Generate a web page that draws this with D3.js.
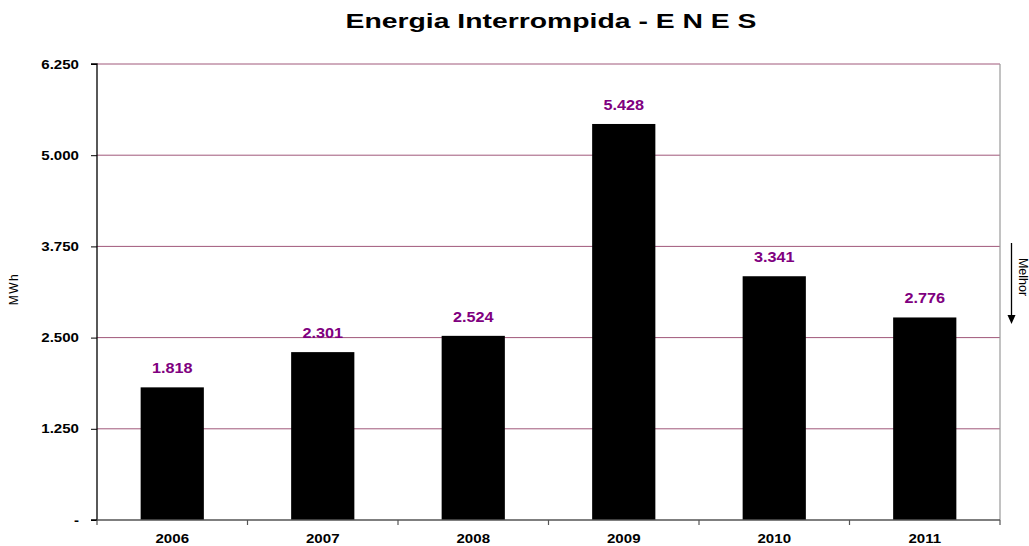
<!DOCTYPE html>
<html><head><meta charset="utf-8">
<script src="https://cdn.jsdelivr.net/npm/d3@7"></script>
<style>body{margin:0;background:#fff}svg{display:block}text{font-family:"Liberation Sans",Arial,sans-serif}</style>
</head><body><svg id="c" width="1029" height="546"></svg>
<script>
const categories = ["2006","2007","2008","2009","2010","2011"];
const values = [1818, 2301, 2524, 5428, 3341, 2776];
const valueLabels = ["1.818","2.301","2.524","5.428","3.341","2.776"];
const yTicks = [0, 1250, 2500, 3750, 5000, 6250];
const yTickLabels = ["-", "1.250", "2.500", "3.750", "5.000", "6.250"];
const title = "Energia Interrompida - E N E S";

const SX = 1.16; // horizontal stretch of the original text
const svg = d3.select("#c");
const L = 97, R = 1000, T = 64, B = 520;
const x = d3.scaleBand().domain(categories).range([L, R]).paddingInner(0.58).paddingOuter(0.29);
const xb = d3.scaleBand().domain(categories).range([L, R]);
const y = d3.scaleLinear().domain([0, 6250]).range([B, T]);

function stretch(sel, sx) {
  sel.each(function() {
    const t = d3.select(this);
    const tx = +t.attr("x") || 0;
    t.attr("x", 0).attr("transform", (t.attr("transform") || "") + ` translate(${tx},0) scale(${sx},1)`);
  });
}

// gridlines
svg.append("g").selectAll("line").data(yTicks.filter(d => d > 0)).join("line")
  .attr("x1", L).attr("x2", R).attr("y1", d => y(d)).attr("y2", d => y(d))
  .attr("stroke", "#a0587a").attr("stroke-width", 1);
// right border
svg.append("line").attr("x1", R).attr("x2", R).attr("y1", T).attr("y2", B).attr("stroke", "#999").attr("stroke-width", 1.2);

// bars
svg.append("g").selectAll("rect").data(values).join("rect")
  .attr("x", (d, i) => x(categories[i])).attr("width", x.bandwidth())
  .attr("y", d => y(d)).attr("height", d => B - y(d)).attr("fill", "#000");

// value labels
svg.append("g").selectAll("text").data(values).join("text")
  .attr("x", (d, i) => x(categories[i]) + x.bandwidth() / 2).attr("y", d => y(d) - 14)
  .attr("text-anchor", "middle").attr("font-size", 14).attr("font-weight", "bold").attr("fill", "#800080")
  .text((d, i) => valueLabels[i])
  .call(stretch, SX);

// y axis
const yAxis = d3.axisLeft(y).tickValues(yTicks).tickFormat((d, i) => yTickLabels[i]).tickSize(6).tickPadding(12);
const gy = svg.append("g").attr("transform", `translate(${L},0)`).call(yAxis);
gy.select(".domain").attr("stroke", "#000").attr("stroke-width", 1.3).attr("d", `M-6,${T}H0V${B}H-6`);
gy.selectAll(".tick line").attr("stroke", "#000");
gy.selectAll(".tick text").attr("font-size", 13).attr("font-weight", "bold").attr("fill", "#000")
  .attr("font-family", "Liberation Sans, Arial, sans-serif").call(stretch, SX);

// x axis
const xAxis = d3.axisBottom(xb).tickSize(0).tickPadding(14);
const gx = svg.append("g").attr("transform", `translate(0,${B})`).call(xAxis);
gx.select(".domain").attr("stroke", "#555").attr("stroke-width", 1.3).attr("d", `M${L},0H${R}`);
gx.selectAll(".tick text").attr("font-size", 13).attr("font-weight", "bold").attr("fill", "#000")
  .attr("font-family", "Liberation Sans, Arial, sans-serif").call(stretch, SX);
svg.append("g").selectAll("line").data(d3.range(categories.length + 1)).join("line")
  .attr("x1", i => L + i * xb.step()).attr("x2", i => L + i * xb.step())
  .attr("y1", B).attr("y2", B + 5).attr("stroke", "#555").attr("stroke-width", 1.2);

// title
svg.append("text").attr("x", 551).attr("y", 28).attr("text-anchor", "middle")
  .attr("font-size", 21).attr("font-weight", "bold").text(title).call(stretch, 1.35);

// y label
svg.append("text").attr("transform", "translate(18,289) rotate(-90)").attr("text-anchor", "middle")
  .attr("font-size", 12).attr("letter-spacing", 1.5).text("MWh");

// Melhor
svg.append("text").attr("transform", "translate(1018.5,277) rotate(90)").attr("text-anchor", "middle")
  .attr("font-size", 12.5).text("Melhor");
svg.append("line").attr("x1", 1011.5).attr("x2", 1011.5).attr("y1", 243).attr("y2", 316).attr("stroke", "#000").attr("stroke-width", 1.3);
svg.append("path").attr("d", "M1007.5,315L1015.5,315L1011.5,324Z").attr("fill", "#000");
</script></body></html>
